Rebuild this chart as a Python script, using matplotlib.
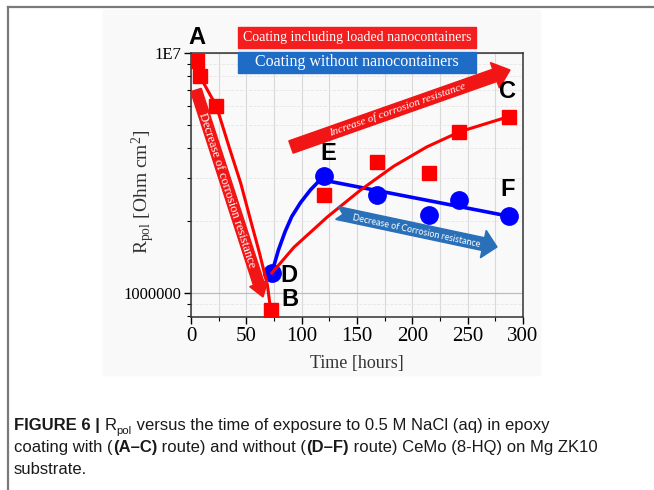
import numpy as np
import matplotlib
matplotlib.use("Agg")
import matplotlib.pyplot as plt
from matplotlib.patches import Polygon, Rectangle
from matplotlib.lines import Line2D
from matplotlib.ticker import MultipleLocator, LogLocator, NullFormatter

plt.rcParams['font.family'] = ['Liberation Serif', 'DejaVu Serif']
plt.rcParams['mathtext.fontset'] = 'custom'
plt.rcParams['mathtext.rm'] = 'Liberation Serif'
plt.rcParams['mathtext.it'] = 'Liberation Serif:italic'

t_with = [5, 8, 23, 72, 120, 168, 215, 242, 287]
r_with = [9.3e6, 8.0e6, 6.0e6, 8.5e5, 2.56e6, 3.52e6, 3.15e6, 4.70e6, 5.40e6]
t_without = [73, 120, 168, 215, 242, 287]
r_without = [1.21e6, 3.07e6, 2.56e6, 2.11e6, 2.43e6, 2.09e6]

# guide curves as drawn in the figure (also)
fall_t = [5, 8, 23, 35, 45, 55, 62, 69, 72]
fall_r = [9.3e6, 8.0e6, 6.0e6, 3.98e6, 2.86e6, 1.92e6, 1.46e6, 1.08e6, 8.5e5]
rise_t = [73, 93, 123, 153, 183, 213, 243, 287]
rise_r = [1.21e6, 1.55e6, 2.07e6, 2.68e6, 3.37e6, 4.06e6, 4.70e6, 5.43e6]
blue_rise_t = [73, 79, 85, 91, 99, 108, 120]
blue_rise_r = [1.21e6, 1.51e6, 1.80e6, 2.08e6, 2.38e6, 2.69e6, 3.07e6]
blue_fall_t = [120, 287]
blue_fall_r = [2.95e6, 2.09e6]

xticks = [0, 50, 100, 150, 200, 250, 300]
yticks = [1e6, 1e7]
ytick_labels = ['1000000', '1E7']

RED = '#ff0000'
BLUE = '#0000ff'

W, H = 654, 490
fig = plt.figure(figsize=(W / 100, H / 100), dpi=100)


def fx(x):
    return x / W


def fy(y):
    return 1 - y / H


def arrow_pts(x0, y0, x1, y1, w, hw, hl, notch=0):
    # arrow outline in pixel coords (y down), returned as figure fractions
    p0 = np.array([x0, y0], float)
    p1 = np.array([x1, y1], float)
    u = (p1 - p0) / np.hypot(*(p1 - p0))
    n = np.array([-u[1], u[0]])
    b = p1 - u * hl
    pts = [p0 + n * w / 2, b + n * w / 2, b + n * hw / 2, p1,
           b - n * hw / 2, b - n * w / 2, p0 - n * w / 2]
    if notch:
        pts.append(p0 + u * notch)
    return [(fx(x), fy(y)) for x, y in pts]


def angle(x0, y0, x1, y1):
    return -np.degrees(np.arctan2(y1 - y0, x1 - x0))


# frame of the page and light chart background
fig.add_artist(Line2D([fx(8), fx(8)], [fy(7), 0], color='#7a7a7a', lw=1.6))
fig.add_artist(Line2D([fx(8), 1], [fy(7), fy(7)], color='#7a7a7a', lw=1.6))
fig.add_artist(Rectangle((fx(103), fy(375)), fx(540) - fx(103), fy(10) - fy(375),
                         transform=fig.transFigure, color='#f9f9f9', zorder=-5))

ax = fig.add_axes([191 / W, 1 - 317 / H, 332 / W, 264 / H])
ax.set_facecolor('none')
ax.set_yscale('log')
ax.set_xlim(0, 300)
ax.set_ylim(7.94e5, 1e7)

ax.plot(blue_rise_t, blue_rise_r, color=BLUE, lw=2.6, zorder=3)
ax.plot(blue_fall_t, blue_fall_r, color=BLUE, lw=2.6, zorder=3)
ax.plot(t_without, r_without, 'o', color=BLUE, ms=12.5, zorder=4)
ax.plot(fall_t, fall_r, color=RED, lw=2.2, zorder=5)
ax.plot(rise_t, rise_r, color=RED, lw=2.2, zorder=5)
ax.plot(t_with, r_with, 's', color=RED, ms=10, zorder=6)

ax.set_xticks(xticks)
ax.xaxis.set_minor_locator(MultipleLocator(25))
ax.set_yticks(yticks, labels=ytick_labels)
ax.yaxis.set_minor_locator(LogLocator(base=10, subs=np.arange(2, 10)))
ax.yaxis.set_minor_formatter(NullFormatter())
ax.tick_params(axis='x', labelsize=15, direction='out', length=5, width=1, pad=2)
ax.tick_params(axis='y', labelsize=12, direction='out', length=5, width=1, pad=2)
ax.tick_params(which='minor', direction='out', length=3, width=0.8)
ax.grid(True, axis='x', which='both', color='#d9d9d9', lw=0.8)
ax.grid(True, axis='y', which='major', color='#bdbdbd', lw=0.9)
ax.grid(True, axis='y', which='minor', color='#e6e6e6', lw=0.6, ls='--')
ax.set_axisbelow(True)
for s in ax.spines.values():
    s.set_color('#333333')
    s.set_linewidth(1.1)

ax.text(-0.142, 0.473, r'R$_{\mathrm{pol}}$ [Ohm cm$^{2}$]', transform=ax.transAxes,
        rotation=90, ha='center', va='center', fontsize=14, color='#333333')
ax.text(0.499, -0.178, 'Time [hours]', transform=ax.transAxes,
        ha='center', va='center', fontsize=13, color='#333333')

# legend boxes
fig.add_artist(Rectangle((fx(238), fy(48)), fx(476) - fx(238), fy(27) - fy(48),
                         transform=fig.transFigure, color='#f41e1e', zorder=8))
fig.add_artist(Rectangle((fx(238), fy(73)), fx(476) - fx(238), fy(52) - fy(73),
                         transform=fig.transFigure, color='#1f6cc6', zorder=8))
fig.text(fx(357), fy(37.5), 'Coating including loaded nanocontainers', color='white',
         fontsize=10, ha='center', va='center', zorder=9)
fig.text(fx(357), fy(62.5), 'Coating without nanocontainers', color='white',
         fontsize=11.5, ha='center', va='center', zorder=9)

# arrows
fig.add_artist(Polygon(arrow_pts(291, 147, 510, 70, 13, 27, 16), closed=True,
                       transform=fig.transFigure, color='#f21515', zorder=7))
fig.text(fx(397), fy(110), 'Increase of corrosion resistance', color='white', style='italic',
         fontsize=8, ha='center', va='center', rotation=angle(291, 147, 510, 70),
         rotation_mode='anchor', zorder=9)

fig.add_artist(Polygon(arrow_pts(196, 90, 263, 297, 11, 19, 14), closed=True,
                       transform=fig.transFigure, color='#f21515', zorder=7))
fig.text(fx(226.5), fy(190), 'Decrease of corrosion resistance', color='white',
         fontsize=9, ha='center', va='center', rotation=angle(196, 90, 263, 297),
         rotation_mode='anchor', zorder=9)

fig.add_artist(Polygon(arrow_pts(337, 213, 497, 247, 13, 28, 14, notch=6), closed=True,
                       transform=fig.transFigure, color='#2a70b8', zorder=7))
fig.text(fx(416), fy(231), 'Decrease of Corrosion resistance', color='white',
         family='Lato', fontsize=6.5, ha='center', va='center',
         rotation=angle(337, 213, 497, 247), rotation_mode='anchor', zorder=9)

# point labels
for lab, x, y in [('A', 197, 37), ('B', 290, 300), ('C', 508, 92),
                  ('D', 289, 275), ('E', 328, 153), ('F', 508, 190)]:
    fig.text(fx(x), fy(y), lab, family='Liberation Sans', weight='bold', fontsize=17,
             ha='center', va='center', zorder=9)

# caption, drawn piece by piece
renderer = fig.canvas.get_renderer()
cap_size = 12


def caption_line(y, parts):
    x = 14
    for txt, bold, sub in parts:
        size = cap_size * 0.68 if sub else cap_size
        dy = 4 if sub else 0
        t = fig.text(fx(x), fy(y + dy), txt, family='Liberation Sans', fontsize=size,
                     weight='bold' if bold else 'normal', ha='left', va='baseline',
                     color='#1a1a1a')
        x += t.get_window_extent(renderer).width


caption_line(430, [('FIGURE 6 | ', True, False), ('R', False, False), ('pol', False, True),
                   (' versus the time of exposure to 0.5 M NaCl (aq) in epoxy', False, False)])
caption_line(452, [('coating with (', False, False), ('(A\u2013C)', True, False),
                   (' route) and without (', False, False), ('(D\u2013F)', True, False),
                   (' route) CeMo (8-HQ) on Mg ZK10', False, False)])
caption_line(474, [('substrate.', False, False)])

fig.savefig('out.png', dpi=100)
